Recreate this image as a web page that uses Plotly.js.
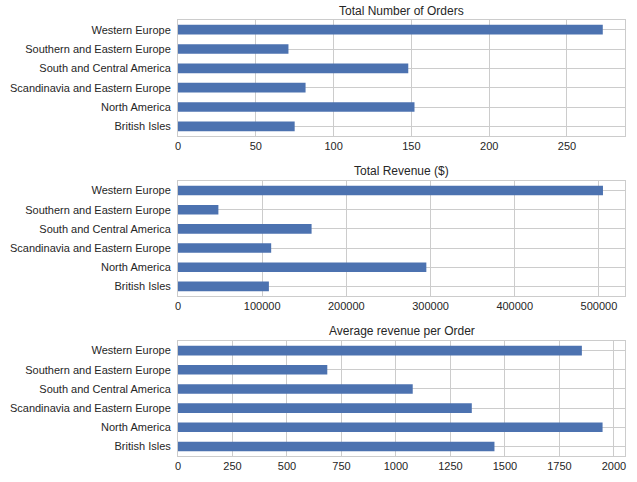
<!DOCTYPE html>
<html><head><script src="https://cdn.plot.ly/plotly-3.0.1.min.js"></script></head>
<body style="margin:0"><div id="c" style="width:637px;height:482px"></div>
<script>
const regions = ["British Isles","North America","Scandinavia and Eastern Europe","South and Central America","Southern and Eastern Europe","Western Europe"];
const orders = [75,152,82,148,71,273];
const revenue = [108000,295000,110700,158700,48000,504800];
const avgRevenue = [1452,1948,1348,1077,685,1853];
const titles = ["Total Number of Orders","Total Revenue ($)","Average revenue per Order"];
const series=[orders,revenue,avgRevenue];
const ranges=[[0,287.3],[0,531000],[0,2051]];
const dtick=[50,100000,250];
const yd=[[0.7178,0.9585],[0.3859,0.6245],[0.0539,0.2925]];
const titleY=[11,171,331];
const font={family:"Liberation Sans, Arial, sans-serif",size:11,color:"#262626"};
const traces=series.map((v,i)=>({type:'bar',orientation:'h',x:v,y:regions,width:0.5,marker:{color:'#4c72b0'},xaxis:'x'+(i?i+1:''),yaxis:'y'+(i?i+1:''),hoverinfo:'none'}));
const layout={width:637,height:482,margin:{l:0,r:0,t:0,b:0},showlegend:false,paper_bgcolor:'#fff',plot_bgcolor:'#fff',font:font,annotations:[]};
for(let i=0;i<3;i++){
  const s=i?i+1:'';
  layout['xaxis'+s]={domain:[0.2794,0.9812],range:ranges[i],dtick:dtick[i],tick0:0,anchor:'y'+s,showgrid:true,gridcolor:'#cccccc',zeroline:false,showline:true,mirror:true,linecolor:'#cccccc',ticks:'',tickformat:'d',tickfont:font};
  layout['yaxis'+s]={domain:yd[i],anchor:'x'+s,type:'category',range:[-0.5,5.5],showgrid:true,gridcolor:'#cccccc',showline:true,mirror:true,linecolor:'#cccccc',ticks:'',ticklabelstandoff:4,tickfont:font};
  layout.annotations.push({text:titles[i],xref:'paper',yref:'paper',x:(0.2794+0.9812)/2,y:1-titleY[i]/482,showarrow:false,font:{family:font.family,size:12,color:'#262626'},yanchor:'middle'});
}
Plotly.newPlot('c',traces,layout,{staticPlot:true});
</script></body></html>
